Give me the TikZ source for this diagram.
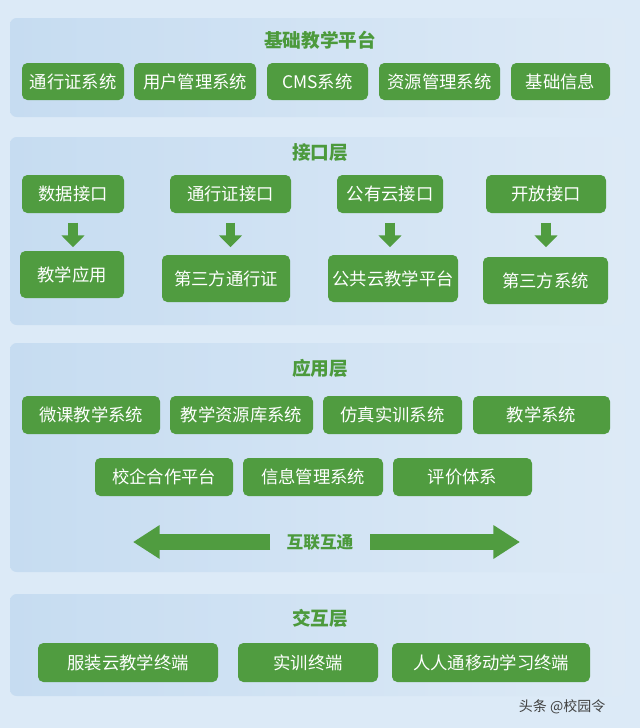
\documentclass[tikz,border=0pt]{standalone}
\usepackage{fontspec}
\setmainfont{Noto Sans CJK SC}
\usetikzlibrary{arrows.meta}
\definecolor{boxgreen}{HTML}{509C40}
\definecolor{titlegreen}{HTML}{4C9A3C}
\definecolor{bgblue}{HTML}{DCEAF7}
\definecolor{panelblue}{HTML}{C6DCF1}
\definecolor{panellight}{HTML}{DDEAF6}
\tikzset{
  gbox/.style={fill=boxgreen, rounded corners=4pt, text=white, font=\fontsize{13}{14}\selectfont, inner sep=0pt},
  layertitle/.style={text=titlegreen, font=\fontsize{14}{15}\selectfont\bfseries},
  panel/.style={left color=panelblue, right color=panellight, rounded corners=5pt, draw=none},
  downarrow/.style={-{Triangle[width=17pt,length=9pt]}, line width=7pt, boxgreen}
}
\newcommand{\gnode}[6]{% name, x1, y1, x2, y2, text
  \node[gbox, minimum width=(#4-#2)*0.75pt, minimum height=(#5-#3)*0.75pt] (#1) at ({(#2+#4)/2},{(#3+#5)/2}) {#6};}
\begin{document}
\begin{tikzpicture}[x=0.75pt,y=-0.75pt]
\useasboundingbox (0,0) rectangle (640,728);
\fill[bgblue] (0,0) rectangle (640,728);

% Panels
\shade[panel] (10,18) rectangle (625,117);
\shade[panel] (10,137) rectangle (625,325);
\shade[panel] (10,343) rectangle (625,572);
\shade[panel] (10,594) rectangle (625,696);

% Basic platform
\node[layertitle] (basetitle) at (320,40) {基础教学平台};
\gnode{pass}{22}{63}{124}{100}{通行证系统}
\gnode{user}{134}{63}{256}{100}{用户管理系统}
\gnode{cms}{267}{63}{368}{100}{CMS系统}
\gnode{res}{379}{63}{500}{100}{资源管理系统}
\gnode{info}{511}{63}{610}{100}{基础信息}

% Interface layer
\node[layertitle] (iftitle) at (320,153) {接口层};
\gnode{dataif}{22}{175}{124}{213}{数据接口}
\gnode{passif}{170}{175}{291}{213}{通行证接口}
\gnode{cloudif}{337}{175}{443}{213}{公有云接口}
\gnode{openif}{486}{175}{606}{213}{开放接口}
\gnode{teachapp}{20}{251}{124}{298}{教学应用}
\gnode{thirdpass}{162}{255}{290}{302}{第三方通行证}
\gnode{cloudplat}{328}{255}{458}{302}{公共云教学平台}
\gnode{thirdsys}{483}{257}{608}{304}{第三方系统}
\foreach \a in {dataif, passif, cloudif, openif}
  \draw[downarrow] ([yshift=-7pt]\a.south) -- ([yshift=-25.5pt]\a.south);

% Application layer
\node[layertitle] (apptitle) at (320,368) {应用层};
\gnode{micro}{22}{396}{160}{434}{微课教学系统}
\gnode{reslib}{170}{396}{313}{434}{教学资源库系统}
\gnode{sim}{323}{396}{462}{434}{仿真实训系统}
\gnode{teach}{473}{396}{610}{434}{教学系统}
\gnode{coop}{95}{458}{233}{496}{校企合作平台}
\gnode{infomgr}{243}{458}{383}{496}{信息管理系统}
\gnode{eval}{393}{458}{532}{496}{评价体系}
\node[layertitle, font=\fontsize{12.5}{13}\selectfont\bfseries] (link) at (320,542) {互联互通};
\coordinate (linkleft) at (133,542);
\coordinate (linkright) at (520,542);
\draw[-{Triangle[width=24pt,length=20pt]}, line width=12pt, boxgreen] (270,542) -- (linkleft);
\draw[-{Triangle[width=24pt,length=20pt]}, line width=12pt, boxgreen] (370,542) -- (linkright);

% Interaction layer
\node[layertitle] (ixtitle) at (320,618) {交互层};
\gnode{garment}{38}{643}{218}{682}{服装云教学终端}
\gnode{train}{238}{643}{378}{682}{实训终端}
\gnode{mobile}{392}{643}{590}{682}{人人通移动学习终端}

% Watermark
\node[anchor=east, text=black!75, font=\fontsize{10.5}{11}\selectfont] (mark) at (610,707) {头条 @校园令};
\end{tikzpicture}
\end{document}
